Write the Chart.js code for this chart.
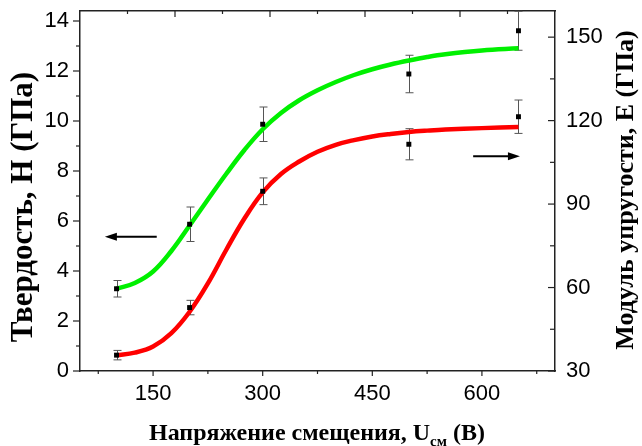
<!DOCTYPE html>
<html>
<head>
<meta charset="utf-8">
<script src="https://cdn.jsdelivr.net/npm/chart.js@4.4.1/dist/chart.umd.min.js"></script>
<style>
body { margin: 0; background: #fff; }
#wrap { width: 642px; height: 446px; }
</style>
</head>
<body>
<div id="wrap"><canvas id="myChart" width="642" height="446"></canvas></div>
<script>
// точки измерений
const biasPoints = [100, 200, 300, 500, 650];
const hardness = [3.29, 5.87, 9.87, 11.88, 13.61];
const hardnessErr = [0.33, 0.69, 0.69, 0.75, 0.78];
const modulus = [35.7, 52.8, 94.6, 111.5, 121.4];
const modulusErr = [1.7, 2.6, 4.8, 5.6, 6.0];

// кривые аппроксимации
const curveX = [100, 125, 150, 175, 200, 225, 250, 275, 300, 325, 350, 375, 400, 425, 450, 475, 500, 525, 550, 600, 650];
const hardnessCurve = [3.29, 3.52, 3.98, 4.80, 5.82, 6.86, 7.88, 8.84, 9.67, 10.32, 10.83, 11.23, 11.56, 11.84, 12.07, 12.26, 12.42, 12.56, 12.67, 12.82, 12.91];
const modulusCurve = [35.7, 36.6, 38.8, 43.6, 51.3, 61.5, 73.5, 84.8, 94.2, 100.8, 105.3, 108.8, 111.3, 113.0, 114.3, 115.2, 115.9, 116.4, 116.8, 117.3, 117.7];

// подписи осей
const xTicks = [150, 300, 450, 600];
const xMinor = [75, 225, 375, 525, 675];
const hTicks = [0, 2, 4, 6, 8, 10, 12, 14];
const hMinor = [1, 3, 5, 7, 9, 11, 13];
const eTicks = [30, 60, 90, 120, 150];
const eMinor = [45, 75, 105, 135];
const topMajor = [2, 4, 6, 8];
const topMinor = [1, 3, 5, 7, 9];

const titleH = 'Твердость, H (ГПа)';
const titleE = 'Модуль упругости, E (ГПа)';
const titleX = ['Напряжение смещения, U', 'см', ' (В)'];

const serif = '"Liberation Serif", "Times New Roman", serif';
const sans = '"Liberation Sans", Arial, sans-serif';

const toXY = (xs, ys) => xs.map((x, i) => ({x: x, y: ys[i]}));
const setTicks = vals => scale => { scale.ticks = vals.map(v => ({value: v})); };
// фиксированный размер оси, без отступов под подписи
const fixSize = (key, px) => scale => {
    scale[key] = px;
    scale.paddingTop = 0; scale.paddingBottom = 0;
    scale.paddingLeft = 0; scale.paddingRight = 0;
};

// засечки, погрешности, стрелки и подписи
const extras = {
    id: 'extras',
    beforeDatasetsDraw(chart) {
        const {ctx, scales} = chart;
        ctx.save();
        ctx.strokeStyle = '#555';
        ctx.lineWidth = 1;
        const bars = [[hardness, hardnessErr, scales.y], [modulus, modulusErr, scales.y2]];
        bars.forEach(([vals, errs, ys]) => {
            vals.forEach((v, i) => {
                const px = Math.round(scales.x.getPixelForValue(biasPoints[i])) + 0.5;
                const y1 = ys.getPixelForValue(v - errs[i]);
                const y2 = ys.getPixelForValue(v + errs[i]);
                ctx.beginPath();
                ctx.moveTo(px, y1); ctx.lineTo(px, y2);
                ctx.moveTo(px - 4, y1); ctx.lineTo(px + 4, y1);
                ctx.moveTo(px - 4, y2); ctx.lineTo(px + 4, y2);
                ctx.stroke();
            });
        });
        ctx.restore();
    },
    afterDraw(chart) {
        const {ctx, scales, chartArea: a} = chart;
        ctx.save();
        ctx.strokeStyle = '#222';
        ctx.lineWidth = 1.2;
        const hor = (scale, vals, y, len) => vals.forEach(v => {
            const p = scale.getPixelForValue(v);
            ctx.beginPath(); ctx.moveTo(p, y); ctx.lineTo(p, y + len); ctx.stroke();
        });
        const ver = (scale, vals, x, len) => vals.forEach(v => {
            const p = scale.getPixelForValue(v);
            ctx.beginPath(); ctx.moveTo(x, p); ctx.lineTo(x + len, p); ctx.stroke();
        });
        hor(scales.x, xTicks, a.bottom, 5);
        hor(scales.x, xMinor, a.bottom, 3);
        hor(scales.x2, topMajor, a.top, 6);
        hor(scales.x2, topMinor, a.top, 3);
        ver(scales.y, hTicks, a.left, -7);
        ver(scales.y, hMinor, a.left, -4);
        ver(scales.y2, eTicks, a.right, -7);
        ver(scales.y2, eMinor, a.right, -5);

        // стрелки
        const arrow = (x1, x2, y) => {
            const dir = Math.sign(x2 - x1);
            ctx.strokeStyle = '#000';
            ctx.fillStyle = '#000';
            ctx.lineWidth = 2;
            ctx.beginPath(); ctx.moveTo(x1, y); ctx.lineTo(x2 - dir * 8, y); ctx.stroke();
            ctx.beginPath();
            ctx.moveTo(x2, y);
            ctx.lineTo(x2 - dir * 12, y - 4);
            ctx.lineTo(x2 - dir * 12, y + 4);
            ctx.closePath(); ctx.fill();
        };
        arrow(scales.x.getPixelForValue(155), scales.x.getPixelForValue(84), scales.y.getPixelForValue(5.37));
        arrow(scales.x.getPixelForValue(588), scales.x.getPixelForValue(652), scales.y2.getPixelForValue(107.2));

        // подписи осей
        ctx.fillStyle = '#000';
        ctx.textAlign = 'center';
        ctx.textBaseline = 'middle';
        ctx.font = 'bold 31px ' + serif;
        ctx.save();
        ctx.translate(24, 207);
        ctx.rotate(-Math.PI / 2);
        ctx.fillText(titleH, 0, 0);
        ctx.restore();

        ctx.font = 'bold 26px ' + serif;
        ctx.save();
        ctx.translate(626, 190);
        ctx.rotate(-Math.PI / 2);
        ctx.fillText(titleE, 0, 0);
        ctx.restore();

        ctx.textAlign = 'left';
        ctx.textBaseline = 'alphabetic';
        const big = 'bold 24px ' + serif, small = 'bold 15px ' + serif;
        ctx.font = big; const w1 = ctx.measureText(titleX[0]).width;
        ctx.font = small; const w2 = ctx.measureText(titleX[1]).width;
        ctx.font = big; const w3 = ctx.measureText(titleX[2]).width;
        let x0 = 317 - (w1 + w2 + w3) / 2;
        ctx.font = big; ctx.fillText(titleX[0], x0, 440);
        ctx.font = small; ctx.fillText(titleX[1], x0 + w1, 446);
        ctx.font = big; ctx.fillText(titleX[2], x0 + w1 + w2, 440);
        ctx.restore();
    }
};

const tickFont = {family: sans, size: 22};
const frame = {display: true, color: '#222', width: 1.5};

const ctx = document.getElementById('myChart').getContext('2d');
const myChart = new Chart(ctx, {
    type: 'scatter',
    plugins: [extras],
    data: {
        datasets: [{
            label: 'H',
            data: toXY(biasPoints, hardness),
            yAxisID: 'y',
            pointStyle: 'rect',
            pointRadius: 3.5,
            pointBorderWidth: 0,
            backgroundColor: '#000',
            order: 1
        }, {
            label: 'E',
            data: toXY(biasPoints, modulus),
            yAxisID: 'y2',
            pointStyle: 'rect',
            pointRadius: 3.5,
            pointBorderWidth: 0,
            backgroundColor: '#000',
            order: 1
        }, {
            label: 'H fit',
            data: toXY(curveX, hardnessCurve),
            yAxisID: 'y',
            showLine: true,
            pointRadius: 0,
            borderColor: '#00f000',
            borderWidth: 4.5,
            tension: 0.4,
            order: 2
        }, {
            label: 'E fit',
            data: toXY(curveX, modulusCurve),
            yAxisID: 'y2',
            showLine: true,
            pointRadius: 0,
            borderColor: '#ff0000',
            borderWidth: 4.5,
            tension: 0.4,
            order: 2
        }]
    },
    options: {
        responsive: false,
        animation: false,
        layout: {padding: 0},
        plugins: {
            legend: {display: false},
            tooltip: {enabled: false}
        },
        scales: {
            x: {
                type: 'linear', position: 'bottom', min: 50, max: 700,
                afterBuildTicks: setTicks(xTicks),
                afterFit: fixSize('height', 75),
                grid: {display: false, drawTicks: false},
                border: frame,
                ticks: {font: tickFont, color: '#000', padding: 10, maxRotation: 0}
            },
            x2: {
                type: 'linear', position: 'top', min: 0, max: 10,
                afterFit: fixSize('height', 11),
                grid: {display: false, drawTicks: false},
                border: frame,
                ticks: {display: false}
            },
            y: {
                type: 'linear', position: 'left', min: 0, max: 14.4,
                afterBuildTicks: setTicks(hTicks),
                afterFit: fixSize('width', 80),
                grid: {display: false, drawTicks: false},
                border: frame,
                ticks: {font: tickFont, color: '#000', padding: 11}
            },
            y2: {
                type: 'linear', position: 'right', min: 30, max: 159.4,
                afterBuildTicks: setTicks(eTicks),
                afterFit: fixSize('width', 87),
                grid: {display: false, drawTicks: false},
                border: frame,
                ticks: {font: tickFont, color: '#000', padding: 11}
            }
        }
    }
});
</script>
</body>
</html>
